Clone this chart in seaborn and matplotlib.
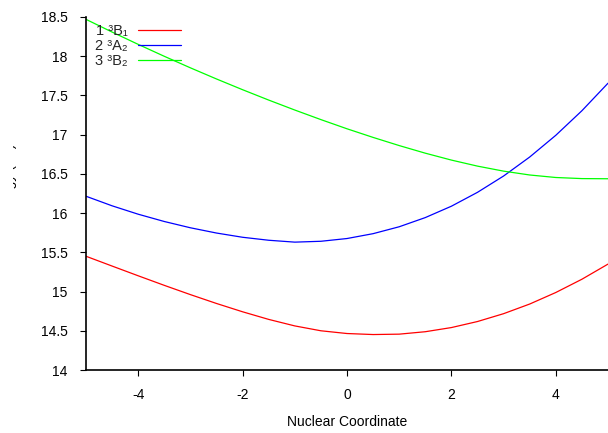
import numpy as np
import pandas as pd
import matplotlib
matplotlib.use("Agg")
import matplotlib.pyplot as plt
import seaborn as sns
from matplotlib.transforms import Bbox

# ---- data ----
coord = [-5.0, -4.5, -4.0, -3.5, -3.0, -2.5, -2.0, -1.5, -1.0, -0.5, 0.0,
         0.5, 1.0, 1.5, 2.0, 2.5, 3.0, 3.5, 4.0, 4.5, 5.0]
e_b1 = [15.450, 15.325, 15.201, 15.079, 14.961, 14.848, 14.742, 14.645, 14.562, 14.500, 14.465,
        14.452, 14.457, 14.488, 14.541, 14.618, 14.718, 14.841, 14.988, 15.157, 15.350]
e_a2 = [16.215, 16.093, 15.986, 15.893, 15.813, 15.746, 15.692, 15.654, 15.630, 15.641, 15.676,
        15.738, 15.826, 15.943, 16.088, 16.265, 16.473, 16.715, 16.992, 17.305, 17.656]
e_b2 = [18.470, 18.308, 18.151, 17.999, 17.852, 17.710, 17.573, 17.441, 17.314, 17.192, 17.075,
        16.965, 16.861, 16.764, 16.676, 16.599, 16.535, 16.486, 16.454, 16.440, 16.438]
labels = ["1 \u00b3B\u2081", "2 \u00b3A\u2082", "3 \u00b3B\u2082"]
colors = ["#ff0000", "#0000ff", "#00ff00"]
xticks = [-4, -2, 0, 2, 4]
yticks = [14, 14.5, 15, 15.5, 16, 16.5, 17, 17.5, 18, 18.5]
ytick_labels = ["14", "14.5", "15", "15.5", "16", "16.5", "17", "17.5", "18", "18.5"]

df = pd.DataFrame({
    "coord": coord * 3,
    "energy": e_b1 + e_a2 + e_b2,
    "state": [labels[0]] * len(coord) + [labels[1]] * len(coord) + [labels[2]] * len(coord),
})

sns.set_theme(style="white")
plt.rcParams["font.family"] = ["Liberation Sans", "DejaVu Sans"]

fig = plt.figure(figsize=(6.08, 4.33), dpi=100)
ax = fig.add_axes([86 / 608, 1 - 370 / 433, 1 - 86 / 608, (370 - 17) / 433])

sns.lineplot(data=df, x="coord", y="energy", hue="state", palette=colors,
             hue_order=labels, ax=ax, linewidth=0.9, legend=False)

ax.set_xlim(-5, 5)
ax.set_ylim(14, 18.5)
ax.set_xticks(xticks)
ax.set_xticklabels([str(t) for t in xticks])
ax.set_yticks(yticks)
ax.set_yticklabels(ytick_labels)
ax.tick_params(axis="both", which="major", direction="out", length=4.5, width=0.8,
               color="black", labelsize=10, labelcolor="black", pad=8.6)
ax.tick_params(axis="x", bottom=True)
ax.tick_params(axis="y", left=True)
for s in ["top", "right"]:
    ax.spines[s].set_visible(False)
for s in ["left", "bottom"]:
    ax.spines[s].set_color("black")
    ax.spines[s].set_linewidth(1.2)

ax.set_xlabel("Nuclear Coordinate", fontsize=10, color="black", labelpad=9)
ax.set_ylabel("")

# legend, gnuplot style (text first, then sample line)
handles = [plt.Line2D([], [], color=c, linewidth=0.9) for c in colors]
leg = ax.legend(handles, labels, loc="upper left", bbox_to_anchor=(0.017, 0.980),
                frameon=False, markerfirst=False, handlelength=2.95,
                handletextpad=0.75, labelspacing=0.07, borderaxespad=0,
                borderpad=0, prop={"family": ["Liberation Sans", "DejaVu Sans"], "size": 10.5})

# y label, mostly cut off at the left edge as in the reference
t = fig.text(17 / 608, 1 - 181 / 433, "Energy (eV)", rotation=90, ha="right",
             va="center", fontsize=10, color="black")
t.set_clip_box(Bbox.from_extents(13, 0, 608, 433))
t.set_clip_on(True)

fig.savefig("out.png", dpi=100)
